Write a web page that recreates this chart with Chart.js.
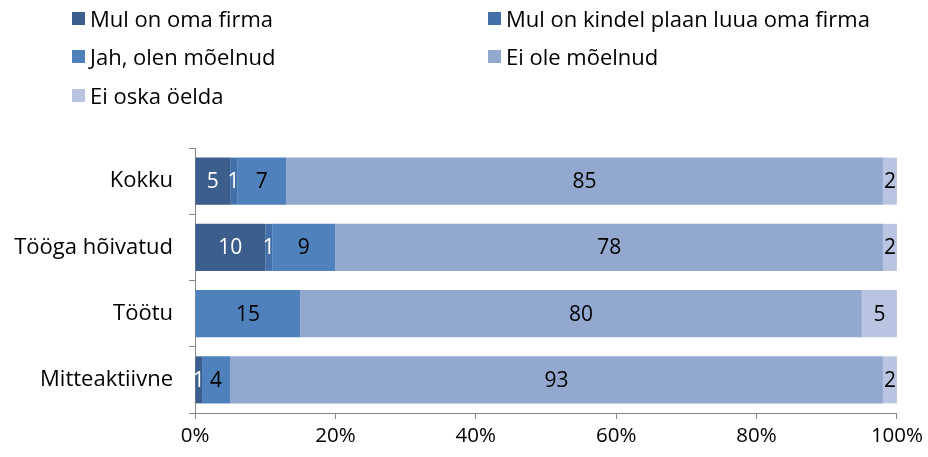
<!DOCTYPE html>
<html>
<head>
<meta charset="utf-8">
<script src="https://cdn.jsdelivr.net/npm/chart.js@4"></script>
<style>
  body { margin: 0; background: #fff; }
  #wrap { position: relative; width: 928px; height: 457px; }
  #legend { position: absolute; left: 0; top: 0; width: 928px; font-family: "Open Sans", Arial, sans-serif; font-size: 22px; color: #000; }
  .item { position: absolute; display: flex; align-items: center; white-space: nowrap; }
  .box { width: 13px; height: 13px; margin-right: 5px; }
</style>
</head>
<body>
<div id="wrap">
  <canvas id="c" width="928" height="457"></canvas>
  <div id="legend"></div>
</div>
<script>
const categories = ["Kokku", "Tööga hõivatud", "Töötu", "Mitteaktiivne"];
const seriesNames = ["Mul on oma firma", "Mul on kindel plaan luua oma firma", "Jah, olen mõelnud", "Ei ole mõelnud", "Ei oska öelda"];
const ownFirm = [5, 10, 0, 1];
const firmPlan = [1, 1, 0, 0];
const thought = [7, 9, 15, 4];
const notThought = [85, 78, 80, 93];
const dontKnow = [2, 2, 5, 2];
const xTicks = [0, 20, 40, 60, 80, 100];

const colors = ["#3B5E8D", "#4470A9", "#4F81BD", "#93A8CF", "#B9C5E0"];
const labelColors = ["#fff", "#fff", "#000", "#000", "#000"];
const font = "'Open Sans', Arial, sans-serif";

const values = [ownFirm, firmPlan, thought, notThought, dontKnow];

// value labels in the middle of each segment
const segLabels = {
  id: "segLabels",
  afterDatasetsDraw(chart) {
    const ctx = chart.ctx;
    ctx.save();
    ctx.font = "21px " + font;
    ctx.textAlign = "center";
    ctx.textBaseline = "middle";
    chart.data.datasets.forEach((ds, i) => {
      chart.getDatasetMeta(i).data.forEach((bar, j) => {
        const v = ds.data[j];
        if (!v) return;
        ctx.fillStyle = labelColors[i];
        ctx.fillText(v, (bar.x + bar.base) / 2, bar.y + 1);
      });
    });
    ctx.restore();
  }
};

const chart = new Chart(document.getElementById("c"), {
  type: "bar",
  data: {
    labels: categories,
    datasets: seriesNames.map((name, i) => ({
      label: name,
      data: values[i],
      backgroundColor: colors[i],
      borderWidth: 0,
      barPercentage: 0.71,
      categoryPercentage: 1
    }))
  },
  options: {
    indexAxis: "y",
    responsive: false,
    animation: false,
    layout: { padding: { top: 148, right: 30, left: 0, bottom: 0 } },
    plugins: { legend: { display: false }, tooltip: { enabled: false } },
    scales: {
      x: {
        stacked: true,
        min: 0,
        max: 100,
        afterBuildTicks: (s) => { s.ticks = xTicks.map((v) => ({ value: v })); },
        afterFit: (s) => { s.height = 44; },
        border: { color: "#868686", width: 1 },
        grid: { drawOnChartArea: false, drawTicks: true, tickLength: 6, color: "#868686" },
        ticks: { color: "#000", font: { family: font, size: 20.5 }, padding: 5, callback: (v) => v + "%" }
      },
      y: {
        stacked: true,
        afterFit: (s) => { s.width = 195; },
        border: { color: "#868686", width: 1 },
        grid: { drawOnChartArea: false, tickLength: 6, color: "#868686", offset: true },
        ticks: { color: "#000", font: { family: font, size: 22 }, padding: 16 }
      }
    }
  },
  plugins: [segLabels]
});

// two-column legend like the original
const legendPos = [[72, 18], [488, 18], [72, 56], [488, 56], [72, 95]];
const leg = document.getElementById("legend");
seriesNames.forEach((name, i) => {
  const d = document.createElement("div");
  d.className = "item";
  d.style.left = legendPos[i][0] + "px";
  d.style.top = (legendPos[i][1] - 15) + "px";
  d.innerHTML = '<span class="box" style="background:' + colors[i] + '"></span><span>' + name + "</span>";
  leg.appendChild(d);
});
</script>
</body>
</html>
